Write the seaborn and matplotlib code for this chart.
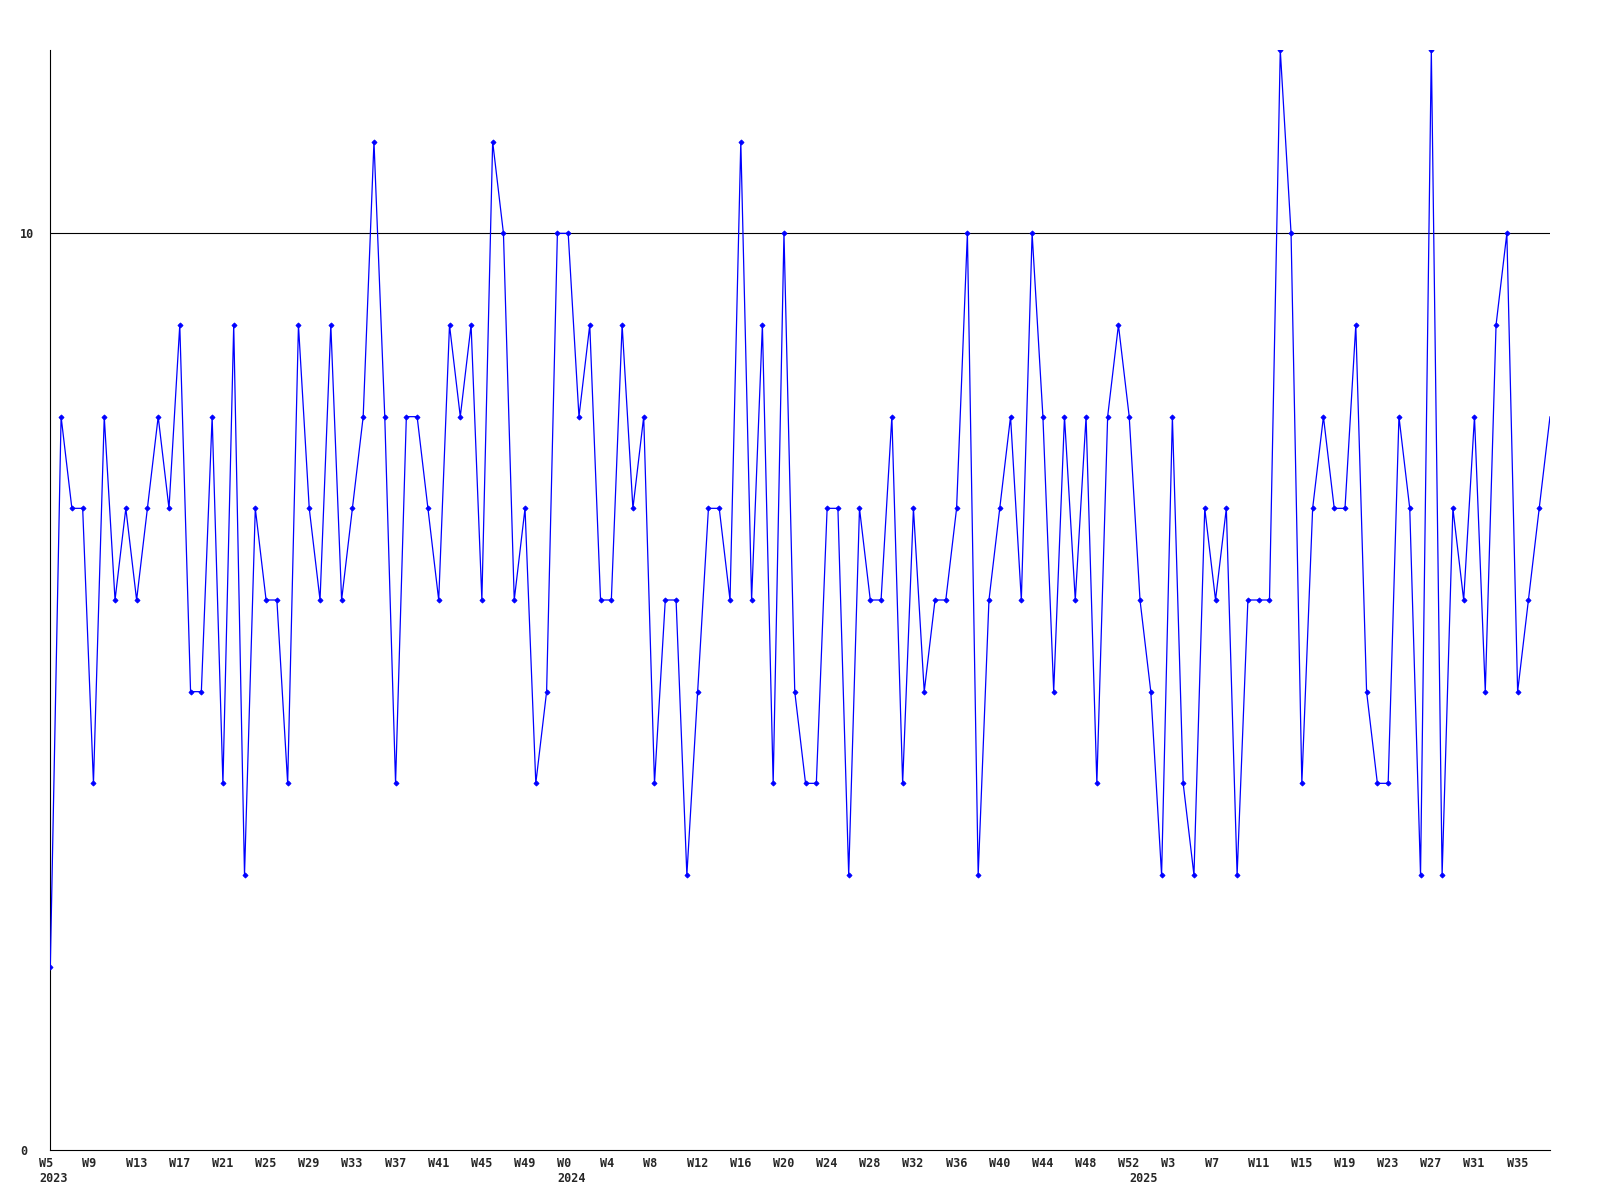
import matplotlib
matplotlib.use("Agg")
import matplotlib.pyplot as plt
import matplotlib.transforms as mtrans
import seaborn as sns
import pandas as pd

# ---------------- data ----------------
values = [
    2, 8, 7, 7, 4, 8, 6, 7, 6, 7,
    8, 7, 9, 5, 5, 8, 4, 9, 3, 7,
    6, 6, 4, 9, 7, 6, 9, 6, 7, 8,
    11, 8, 4, 8, 8, 7, 6, 9, 8, 9,
    6, 11, 10, 6, 7, 4, 5, 10, 10, 8,
    9, 6, 6, 9, 7, 8, 4, 6, 6, 3,
    5, 7, 7, 6, 11, 6, 9, 4, 10, 5,
    4, 4, 7, 7, 3, 7, 6, 6, 8, 4,
    7, 5, 6, 6, 7, 10, 3, 6, 7, 8,
    6, 10, 8, 5, 8, 6, 8, 4, 8, 9,
    8, 6, 5, 3, 8, 4, 3, 7, 6, 7,
    3, 6, 6, 6, 12, 10, 4, 7, 8, 7,
    7, 9, 5, 4, 4, 8, 7, 3, 12, 3,
    7, 6, 8, 5, 9, 10, 5, 6, 7, 8,
]

week_labels = (
    ["W5", "W9", "W13", "W17", "W21", "W25", "W29", "W33", "W37", "W41", "W45", "W49"]
    + ["W0", "W4", "W8", "W12", "W16", "W20", "W24", "W28", "W32", "W36", "W40", "W44", "W48", "W52"]
    + ["W3", "W7", "W11", "W15", "W19", "W23", "W27", "W31", "W35"]
)
week_tick_idx = list(range(0, 4 * len(week_labels), 4))

year_labels = ["2023", "2024", "2025"]
year_start_idx = [0, 48, 101]

y_ticks = [0, 10]
threshold = 10

# ---------------- plot ----------------
sns.set_style("white")
plt.rcParams["font.family"] = ["DejaVu Sans Mono"]

W, H, DPI = 1600, 1200, 100
fig = plt.figure(figsize=(W / DPI, H / DPI), dpi=DPI)
left_px, right_px, top_px, bottom_px = 50.3, 1550.0, 50.0, 1150.0
ax = fig.add_axes([left_px / W, 1 - bottom_px / H,
                   (right_px - left_px) / W, (bottom_px - top_px) / H])

df = pd.DataFrame({"week": range(len(values)), "value": values})

ax.axhline(threshold, color="black", lw=0.8, zorder=1)

sns.lineplot(data=df, x="week", y="value", ax=ax, color="#0000ff",
             linewidth=0.9, marker="D", markersize=2.6,
             markeredgecolor="#0000ff", markerfacecolor="#0000ff",
             markeredgewidth=0.6, markevery=list(range(len(values) - 1)),
             zorder=3)

ax.set_xlim(0, len(values) - 1)
ax.set_ylim(0, 12)
ax.set_xlabel("")
ax.set_ylabel("")

for s in ["top", "right"]:
    ax.spines[s].set_visible(False)
for s in ["left", "bottom"]:
    ax.spines[s].set_color("black")
    ax.spines[s].set_linewidth(0.8)

# y ticks
ax.set_yticks(y_ticks)
ax.set_yticklabels([str(v) for v in y_ticks])
ax.tick_params(axis="y", length=0, pad=21.8, labelsize=8.5)
for lab in ax.get_yticklabels():
    lab.set_horizontalalignment("left")
    lab.set_fontweight("bold")

# x ticks (week labels, left aligned slightly left of tick)
ax.set_xticks(week_tick_idx)
ax.set_xticklabels(week_labels)
ax.tick_params(axis="x", length=0, pad=4.9, labelsize=8.5)
shift = mtrans.ScaledTranslation(-11 / DPI, 0, fig.dpi_scale_trans)
for lab in ax.get_xticklabels():
    lab.set_horizontalalignment("left")
    lab.set_fontweight("bold")
    lab.set_transform(lab.get_transform() + shift)

# year labels
ytrans = mtrans.blended_transform_factory(ax.transData, ax.transAxes) + \
    mtrans.ScaledTranslation(-11 / DPI, -21.5 / DPI, fig.dpi_scale_trans)
for idx, yl in zip(year_start_idx, year_labels):
    ax.text(idx, 0, yl, transform=ytrans, ha="left", va="top",
            fontsize=8.5, fontweight="bold", clip_on=False)

fig.savefig("out.png", dpi=DPI)
